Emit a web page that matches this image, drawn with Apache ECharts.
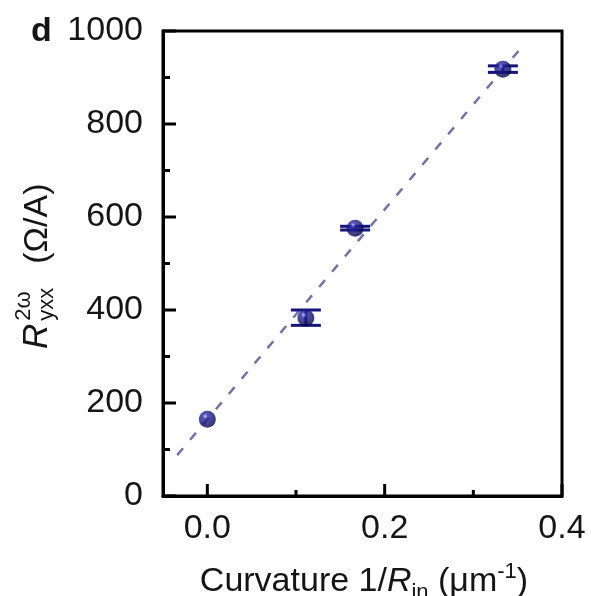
<!DOCTYPE html>
<html style="height: 100%">
<head>
  <meta charset="utf-8">
</head>
<body style="height: 100%; margin: 0; background: #fff">
  <div id="container" style="width: 591px; height: 596px"></div>

  <script src="https://cdn.jsdelivr.net/npm/echarts@6/dist/echarts.min.js"></script>
  <script>
    // data
    var curvature = [0, 1 / 9, 1 / 6, 1 / 3];
    var resistance = [165, 383, 576, 918];
    var errLow = [165, 367, 572, 911];
    var errHigh = [165, 400, 580, 925];
    var fitX = [-0.034, 0.358];
    var fitY = [88, 973];
    var xMajorTicks = [0, 0.2, 0.4];
    var xMinorTicks = [0.1, 0.3];
    var yMajorTicks = [0, 200, 400, 600, 800, 1000];
    var yMinorTicks = [100, 300, 500, 700, 900];
    var xMin = -0.05, xMax = 0.4;
    var yMin = 0, yMax = 1000;

    var FONT = '"Liberation Sans", Arial, sans-serif';
    var INK = '#151515';
    var NAVY = '#14147c';

    var dom = document.getElementById('container');
    var myChart = echarts.init(dom, null, { renderer: 'canvas' });

    // measure text to place sub/superscripts
    var ctx = document.createElement('canvas').getContext('2d');
    function tw(str, size, style) {
      ctx.font = (style || 'normal') + ' ' + size + 'px "Liberation Sans"';
      return ctx.measureText(str).width;
    }
    // baseline -> middle offset
    function mid(size) { return -0.36 * size; }

    function txt(str, x, baseY, size, style) {
      return {
        type: 'text',
        x: x,
        y: baseY + mid(size),
        style: {
          text: str,
          fill: INK,
          font: (style || 'normal') + ' ' + size + 'px ' + FONT,
          align: 'left',
          verticalAlign: 'middle'
        }
      };
    }

    // y axis title: R^{2ω}_{yxx} (Ω/A), rotated
    var yt = [];
    var px = -86;
    yt.push(txt('R', px, 0, 35, 'italic'));
    px += tw('R', 35, 'italic') + 3;
    yt.push(txt('2ω', px, -18, 22));
    yt.push(txt('yxx', px, 5, 22));
    px += tw('yxx', 22) + 24;
    yt.push(txt('(Ω/A)', px, 0, 34));

    // x axis title: Curvature 1/R_in (μm^-1)
    var pieces = [
      ['Curvature 1/', 34, 'normal', 0],
      ['R', 34, 'italic', 0],
      ['in', 22, 'normal', 7],
      [' (μm', 34, 'normal', 0],
      ['-1', 22, 'normal', -14],
      [')', 34, 'normal', 0]
    ];
    var total = 0;
    pieces.forEach(function (p) { total += tw(p[0], p[1], p[2]); });
    var xt = [];
    var cx = 364 - total / 2;
    pieces.forEach(function (p) {
      xt.push(txt(p[0], cx, p[3], p[1], p[2]));
      cx += tw(p[0], p[1], p[2]);
    });

    // inward tick marks, placed through the axes' scales
    var tickData = []
      .concat(xMajorTicks.map(function (v) { return [v, yMin, 0, 12]; }))
      .concat(xMinorTicks.map(function (v) { return [v, yMin, 0, 6]; }))
      .concat(yMajorTicks.map(function (v) { return [xMin, v, 1, 13]; }))
      .concat(yMinorTicks.map(function (v) { return [xMin, v, 1, 7]; }));

    var option = {
      animation: false,
      grid: {
        left: 163,
        right: 29,
        top: 31,
        bottom: 100,
        show: true,
        borderColor: '#000',
        borderWidth: 3,
        backgroundColor: 'transparent'
      },
      xAxis: {
        type: 'value',
        min: xMin,
        max: xMax,
        axisLine: { show: true, onZero: false, lineStyle: { color: '#000', width: 3 } },
        axisTick: { show: false },
        axisLabel: {
          margin: 16,
          fontSize: 34,
          fontFamily: FONT,
          color: INK,
          customValues: xMajorTicks,
          formatter: function (v) { return v.toFixed(1); }
        },
        splitLine: { show: false }
      },
      yAxis: {
        type: 'value',
        min: yMin,
        max: yMax,
        axisLine: { show: true, onZero: false, lineStyle: { color: '#000', width: 3 } },
        axisTick: { show: false },
        axisLabel: {
          margin: 20,
          fontSize: 34,
          fontFamily: FONT,
          color: INK,
          customValues: yMajorTicks,
          formatter: function (v) { return String(v); }
        },
        splitLine: { show: false }
      },
      graphic: [
        {
          type: 'text',
          left: 31,
          top: 15,
          style: {
            text: 'd',
            fill: INK,
            font: 'bold 34px ' + FONT
          }
        },
        {
          type: 'group',
          x: 50,
          y: 263,
          rotation: Math.PI / 2,
          children: yt
        },
        {
          type: 'group',
          x: 0,
          y: 594,
          children: xt
        }
      ],
      series: [
        {
          name: 'ticks',
          type: 'custom',
          silent: true,
          clip: false,
          data: tickData,
          renderItem: function (params, api) {
            var p = api.coord([api.value(0), api.value(1)]);
            var len = api.value(3);
            var vertical = api.value(2) === 0;
            return {
              type: 'line',
              shape: vertical
                ? { x1: p[0], y1: p[1], x2: p[0], y2: p[1] - len }
                : { x1: p[0], y1: p[1], x2: p[0] + len, y2: p[1] },
              style: { stroke: '#000', lineWidth: 3 }
            };
          },
          z: 5
        },
        {
          name: 'fit',
          type: 'line',
          data: fitX.map(function (x, i) { return [x, fitY[i]]; }),
          symbol: 'none',
          lineStyle: { color: '#7272aa', width: 2.5, type: [9, 11] },
          z: 1
        },
        {
          name: 'error',
          type: 'custom',
          data: curvature.map(function (x, i) { return [x, errLow[i], errHigh[i]]; }),
          renderItem: function (params, api) {
            var lo = api.coord([api.value(0), api.value(1)]);
            var hi = api.coord([api.value(0), api.value(2)]);
            var w = 15;
            var style = { stroke: NAVY, lineWidth: 3 };
            if (hi[1] === lo[1]) return null;
            return {
              type: 'group',
              children: [
                { type: 'line', shape: { x1: lo[0], y1: lo[1], x2: hi[0], y2: hi[1] }, style: style },
                { type: 'line', shape: { x1: lo[0] - w, y1: lo[1], x2: lo[0] + w, y2: lo[1] }, style: style },
                { type: 'line', shape: { x1: hi[0] - w, y1: hi[1], x2: hi[0] + w, y2: hi[1] }, style: style }
              ]
            };
          },
          z: 2
        },
        {
          name: 'data',
          type: 'scatter',
          data: curvature.map(function (x, i) { return [x, resistance[i]]; }),
          symbol: 'circle',
          symbolSize: 17,
          itemStyle: {
            color: new echarts.graphic.RadialGradient(0.38, 0.32, 0.7, [
              { offset: 0, color: '#c8c8f0' },
              { offset: 0.2, color: '#2a2aa8' },
              { offset: 0.65, color: '#12126e' },
              { offset: 1, color: '#060640' }
            ])
          },
          z: 3
        }
      ]
    };

    myChart.setOption(option);
    window.addEventListener('resize', myChart.resize);
  </script>
</body>
</html>
